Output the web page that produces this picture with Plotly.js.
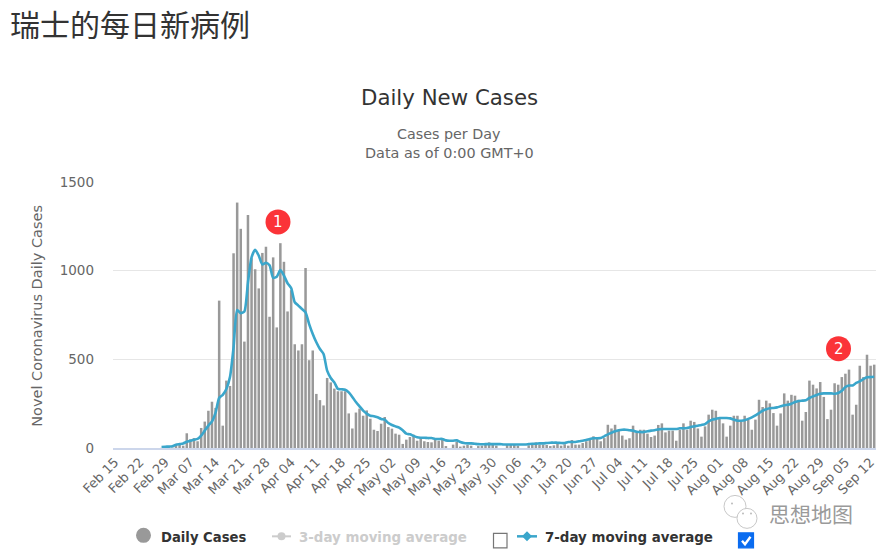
<!DOCTYPE html>
<html><head><meta charset="utf-8">
<script src="https://cdn.plot.ly/plotly-3.0.1.min.js"></script>
<style>html,body{margin:0;padding:0;background:#fff}#c{width:882px;height:553px}</style>
</head><body><div id="c"></div>
<script>
const tickLabels = ["Feb 15","Feb 22","Feb 29","Mar 07","Mar 14","Mar 21","Mar 28","Apr 04","Apr 11","Apr 18","Apr 25","May 02","May 09","May 16","May 23","May 30","Jun 06","Jun 13","Jun 20","Jun 27","Jul 04","Jul 11","Jul 18","Jul 25","Aug 01","Aug 08","Aug 15","Aug 22","Aug 29","Sep 05","Sep 12"];
const months = ["Jan","Feb","Mar","Apr","May","Jun","Jul","Aug","Sep"];
const dailyCases = [
0,0,0,0,0,0,0,0,0,0,0,0,0,1,0,6,3,19,26,13,
83,49,56,38,113,149,210,261,226,831,126,380,350,1098,1384,1236,600,1314,1070,1008,
900,1100,1135,740,1075,680,1155,1050,770,890,585,550,585,1015,495,550,305,270,240,395,
370,335,320,320,320,195,110,200,222,182,212,165,103,96,137,175,118,109,81,75,
23,47,62,75,41,56,38,34,32,47,41,54,11,0,19,34,8,13,17,13,
0,11,13,19,32,17,13,0,0,17,17,17,13,0,0,15,23,32,19,19,
17,11,15,28,13,21,13,45,19,19,28,38,47,66,58,38,56,131,110,131,
100,70,47,55,126,85,103,103,81,62,70,130,139,88,98,98,41,103,139,103,
154,147,110,64,122,188,216,210,169,139,64,126,182,182,150,182,160,103,160,272,
231,267,252,197,126,195,308,267,300,295,272,154,203,380,357,336,372,288,163,216,
365,357,400,419,442,188,244,464,400,526,464,470];
const avg7 = [
null,null,null,null,null,null,null,null,null,null,null,null,null,5,7,8,10,18,22,26,
35,41,47,51,70,98,126,150,200,282,300,333,400,568,778,760,770,934,1075,1118,
1085,1035,1045,1030,959,966,1003,972,929,902,822,803,784,765,699,643,596,558,530,436,
395,370,333,331,329,314,288,259,235,211,194,182,179,173,164,160,141,130,122,115,
100,81,77,68,60,58,58,56,56,51,51,51,43,41,41,43,34,28,26,26,
24,22,21,22,22,22,22,22,20,20,20,20,20,20,20,22,24,24,26,26,
28,30,30,30,28,28,34,34,34,38,41,45,51,55,55,56,66,77,86,94,
100,103,103,100,98,92,90,90,94,98,100,105,107,107,107,107,107,111,111,113,
118,122,126,130,135,150,160,164,169,169,169,167,160,154,154,156,164,173,184,197,
210,218,224,226,229,235,241,244,250,259,265,267,269,282,291,299,306,308,308,308,
306,310,323,344,352,353,367,376,389,399,400,402];
const yTicks = [0,500,1000,1500];

const categories = dailyCases.map((_,i)=>{const d=new Date(Date.UTC(2020,1,15+i));
  return months[d.getUTCMonth()]+" "+String(d.getUTCDate()).padStart(2,"0");});

const L=113,R=876,T=182,B=448.5;
const px=x=>(x-L)/(R-L), py=y=>(B-y)/(B-T);
const F='"DejaVu Sans", sans-serif';
const ann=(x,y,text,size,color,extra)=>Object.assign({xref:'paper',yref:'paper',x:px(x),y:py(y),text,showarrow:false,
  xanchor:'left',yanchor:'middle',font:{family:F,size,color}},extra||{});
const circ=(cx,cy,r,fill,line)=>({type:'circle',xref:'paper',yref:'paper',x0:px(cx-r),x1:px(cx+r),y0:py(cy+r),y1:py(cy-r),fillcolor:fill,line:line||{width:0},layer:'above'});
const seg=(x0,y0,x1,y1,c,w)=>({type:'line',xref:'paper',yref:'paper',x0:px(x0),x1:px(x1),y0:py(y0),y1:py(y1),line:{color:c,width:w},layer:'above'});
const pathOf=(pts)=>pts.map((p,i)=>(i?'L':'M')+px(p[0])+','+py(p[1])).join(' ');
const poly=(pts,fill,line,close)=>({type:'path',xref:'paper',yref:'paper',path:pathOf(pts)+(close?' Z':''),fillcolor:fill,line:line,layer:'above'});
const box=(x0,y0,x1,y1,fill,c)=>({type:'rect',xref:'paper',yref:'paper',x0:px(x0),x1:px(x1),y0:py(y1),y1:py(y0),fillcolor:fill,line:{color:c,width:1.2},layer:'above'});

const shapes=[
 circ(278,222,12.5,'#fb3338'),circ(838.5,349,12.5,'#fb3338'),
 circ(143.5,536,7.5,'#999999'),
 seg(272,537,291,537,'#cccccc',2),circ(281.5,537,4,'#cccccc'),
 box(493.5,534,507,548.5,'#ffffff','#767676'),
 seg(517,537,537,537,'#3aa6cb',2.5),
 poly([[527,532],[532,537],[527,542],[522,537]],'#3aa6cb',{width:0},true),
 box(738.5,533.5,753.5,548.5,'#0a6cf0','#0a6cf0'),
 poly([[742,541.5],[745,545],[750.5,537.5]],'rgba(0,0,0,0)',{color:'#ffffff',width:2.4},false),
 circ(735,507,11,'#ffffff',{color:'#c8c8c8',width:1}),
 circ(747,519,10,'#ffffff',{color:'#c8c8c8',width:1}),
 circ(743,514,1,'#bbbbbb'),circ(751,514,1,'#bbbbbb'),circ(732,504,1,'#bbbbbb')
];
const annotations=[
 ann(7.5,22.5,'瑞士的每日新病例',30,'#333333',{font:{family:'"Noto Sans CJK SC", sans-serif',size:30,color:'#333333'}}),
 ann(449,97,'Daily New Cases',21.3,'#333333',{xanchor:'center'}),
 ann(449,134,'Cases per Day',14.3,'#666666',{xanchor:'center'}),
 ann(449,153,'Data as of 0:00 GMT+0',14.4,'#666666',{xanchor:'center'}),
 ann(37,316,'Novel Coronavirus Daily Cases',14.5,'#666666',{xanchor:'center',textangle:-90}),
 ann(278,222,'1',15,'#ffffff',{xanchor:'center'}),
 ann(838.5,349,'2',15,'#ffffff',{xanchor:'center'}),
 ann(159,538,'<b>Daily Cases</b>',13.2,'#333333'),
 ann(297,538,'<b>3-day moving average</b>',13.4,'#cccccc'),
 ann(543,538,'<b>7-day moving average</b>',13.4,'#333333'),
 ann(766.5,514,'思想地图',21,'#9a9a9a',{font:{family:'"Noto Sans CJK SC", sans-serif',size:21,color:'#9a9a9a'}})
];

Plotly.newPlot('c',[
 {type:'bar',x:categories,y:dailyCases,marker:{color:'#999999',line:{width:0}},width:0.7,hoverinfo:'x+y'},
 {type:'scatter',mode:'lines',x:categories,y:avg7,line:{color:'#3aa6cb',width:2.6,shape:'spline',smoothing:0.6},connectgaps:false}
],{
 width:882,height:553,showlegend:false,paper_bgcolor:'#fff',plot_bgcolor:'#fff',
 margin:{l:L,r:882-R,t:T,b:553-B,pad:0},
 font:{family:F,color:'#666666',size:13},
 xaxis:{type:'category',categoryorder:'array',categoryarray:categories,range:[-0.5,211.5],tickmode:'array',tickvals:tickLabels,ticktext:tickLabels,
  tickangle:-45,showgrid:false,showline:true,linecolor:'#ccd6eb',linewidth:1.5,ticks:'',tickfont:{size:13,color:'#666666'},zeroline:false},
 yaxis:{range:[0,1500],tickmode:'array',tickvals:yTicks,ticktext:yTicks.map(String),showgrid:true,gridcolor:'#e6e6e6',gridwidth:1.5,zeroline:false,showline:false,ticks:'',
  tickfont:{size:13.5,color:'#666666'},automargin:false,ticklabelstandoff:18},
 shapes,annotations,bargap:0.3
},{displayModeBar:false,staticPlot:true});
</script></body></html>
